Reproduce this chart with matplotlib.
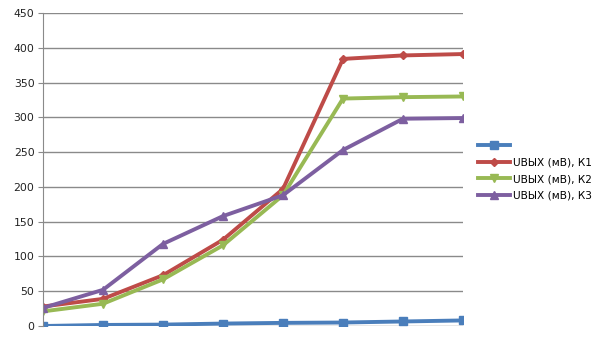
import matplotlib
matplotlib.use("Agg")
import matplotlib.pyplot as plt

x_points = [1, 2, 3, 4, 5, 6, 7, 8]
series_blue = [0, 1.5, 2, 3.5, 4.5, 5, 6.5, 8]
series_k1 = [28, 39, 73, 124, 197, 384, 389, 391]
series_k2 = [21, 32, 67, 116, 188, 327, 329, 330]
series_k3 = [26, 52, 118, 158, 188, 253, 298, 299]
labels = ["", "UВЫХ (мВ), К1", "UВЫХ (мВ), К2", "UВЫХ (мВ), К3"]
yticks = [0, 50, 100, 150, 200, 250, 300, 350, 400, 450]

fig = plt.figure(figsize=(6.05, 3.4), dpi=100)
ax = fig.add_axes([43/605, 1-326/340, (463-43)/605, (326-13)/340])

styles = [
    (series_blue, "#4A7EBB", "s", 5.5),
    (series_k1, "#BE4B48", "D", 4.5),
    (series_k2, "#98B954", "v", 5.5),
    (series_k3, "#7D5FA0", "^", 6),
]
for (vals, col, mk, ms), lab in zip(styles, labels):
    ax.plot(x_points, vals, color=col, lw=2.8, marker=mk, ms=ms,
            markeredgecolor=col, label=lab if lab else " ")

ax.set_xlim(1, 8)
ax.set_ylim(0, 450)
ax.set_yticks(yticks)
ax.set_xticks([])
ax.yaxis.grid(True, color="#8a8a8a", lw=1)
ax.set_axisbelow(True)
for s in ["top", "right", "bottom"]:
    ax.spines[s].set_visible(False)
ax.spines["left"].set_color("#8a8a8a")
ax.tick_params(axis="y", length=3.6, color="#8a8a8a", labelsize=7.8, pad=2.5, labelcolor="#222222")

leg = fig.legend(loc="upper left", bbox_to_anchor=(478/605, 1-141/340), frameon=False,
                 fontsize=7.6, handlelength=3.0, handletextpad=0.3, labelspacing=0.62,
                 borderaxespad=0, borderpad=0)
fig.savefig("out.png", dpi=100)
